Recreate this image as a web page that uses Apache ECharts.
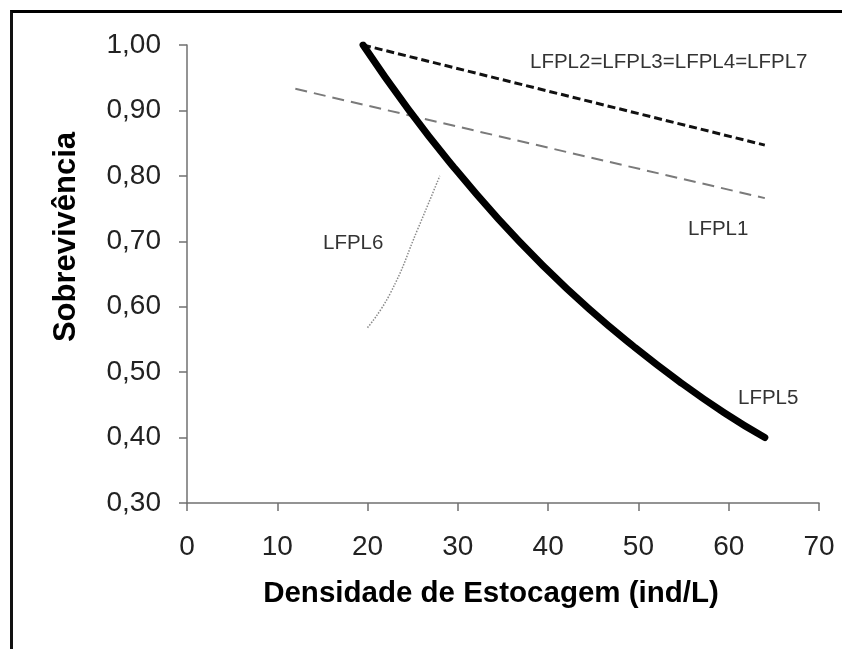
<!DOCTYPE html>
<html>
<head>
<meta charset="utf-8">
<script src="https://cdn.jsdelivr.net/npm/echarts@6/dist/echarts.min.js"></script>
<style>
  html, body { margin: 0; padding: 0; background: #fff; }
  #chart { position: absolute; left: 0; top: 0; width: 842px; height: 649px; }
  #frame { position: absolute; left: 10px; top: 10px; width: 840px; height: 650px;
           border-top: 3px solid #000; border-left: 3px solid #111; pointer-events: none; }
</style>
</head>
<body>
<div id="chart"></div>
<div id="frame"></div>
<script>
// ---- data ----
const xTicks = [0, 10, 20, 30, 40, 50, 60, 70];
const yTicks = [0.30, 0.40, 0.50, 0.60, 0.70, 0.80, 0.90, 1.00];

const lfpl5X = [19.5, 24.5, 29.5, 34.5, 39.5, 44.5, 49.5, 54.5, 59.5, 64];
const lfpl5Y = [1.00, 0.902, 0.814, 0.734, 0.662, 0.597, 0.539, 0.486, 0.438, 0.40];

const lfpl2X = [19.5, 64];
const lfpl2Y = [1.00, 0.847];

const lfpl1X = [12, 64];
const lfpl1Y = [0.933, 0.766];

const lfpl6X = [20, 22.5, 25.6, 28];
const lfpl6Y = [0.568, 0.62, 0.72, 0.80];

const seriesLabels = ["LFPL2=LFPL3=LFPL4=LFPL7", "LFPL1", "LFPL6", "LFPL5"];
const xTitle = "Densidade de Estocagem (ind/L)";
const yTitle = "Sobrevivência";

function pairs(xs, ys) { return xs.map((x, i) => [x, ys[i]]); }

const chart = echarts.init(document.getElementById('chart'), null, { renderer: 'canvas' });
const font = 'Liberation Sans, Arial, sans-serif';

chart.setOption({
  backgroundColor: 'transparent',
  animation: false,
  grid: { left: 187, right: 23, top: 45, bottom: 146 },
  xAxis: {
    type: 'value', min: xTicks[0], max: xTicks[xTicks.length - 1], interval: 10,
    axisLine: { show: true, lineStyle: { color: '#707070', width: 1.5 } },
    axisTick: { show: true, length: 8, lineStyle: { color: '#707070', width: 1.5 } },
    axisLabel: { margin: 30, fontSize: 28, fontFamily: font, color: '#222' },
    splitLine: { show: false }
  },
  yAxis: {
    type: 'value', min: yTicks[0], max: yTicks[yTicks.length - 1], interval: 0.1,
    axisLine: { show: true, lineStyle: { color: '#707070', width: 1.5 } },
    axisTick: { show: true, length: 8, lineStyle: { color: '#707070', width: 1.5 } },
    axisLabel: { margin: 26, fontSize: 28, fontFamily: font, color: '#222',
      formatter: v => v.toFixed(2).replace('.', ',') },
    splitLine: { show: false }
  },
  series: [
    { name: 'LFPL1', type: 'line', data: pairs(lfpl1X, lfpl1Y), showSymbol: false,
      lineStyle: { color: '#7a7a7a', width: 2, type: [12, 7] }, z: 2 },
    { name: 'LFPL2', type: 'line', data: pairs(lfpl2X, lfpl2Y), showSymbol: false,
      lineStyle: { color: '#111', width: 3, type: [8, 4] }, z: 3 },
    { name: 'LFPL6', type: 'line', data: pairs(lfpl6X, lfpl6Y), showSymbol: false,
      smooth: 0.5,
      lineStyle: { color: '#8a8a8a', width: 1.5, type: [1.5, 1.5] }, z: 2 },
    { name: 'LFPL5', type: 'line', data: pairs(lfpl5X, lfpl5Y), showSymbol: false,
      smooth: 0.5,
      lineStyle: { color: '#000', width: 7, cap: 'round', join: 'round' }, z: 4 }
  ],
  graphic: [
    { type: 'text', left: 530, top: 52, style: { text: seriesLabels[0], font: '20.5px ' + font, fill: '#333' } },
    { type: 'text', left: 688, top: 219, style: { text: seriesLabels[1], font: '20.5px ' + font, fill: '#333' } },
    { type: 'text', left: 323, top: 233, style: { text: seriesLabels[2], font: '20.5px ' + font, fill: '#333' } },
    { type: 'text', left: 738, top: 388, style: { text: seriesLabels[3], font: '20.5px ' + font, fill: '#333' } },
    { type: 'text', x: 491, y: 594, style: { text: xTitle, font: 'bold 29.5px ' + font, fill: '#000',
        textAlign: 'center', textVerticalAlign: 'middle' } },
    { type: 'text', x: 66, y: 237, rotation: Math.PI / 2, style: { text: yTitle, font: 'bold 31px ' + font, fill: '#000',
        textAlign: 'center', textVerticalAlign: 'middle' } }
  ]
});
</script>
</body>
</html>
